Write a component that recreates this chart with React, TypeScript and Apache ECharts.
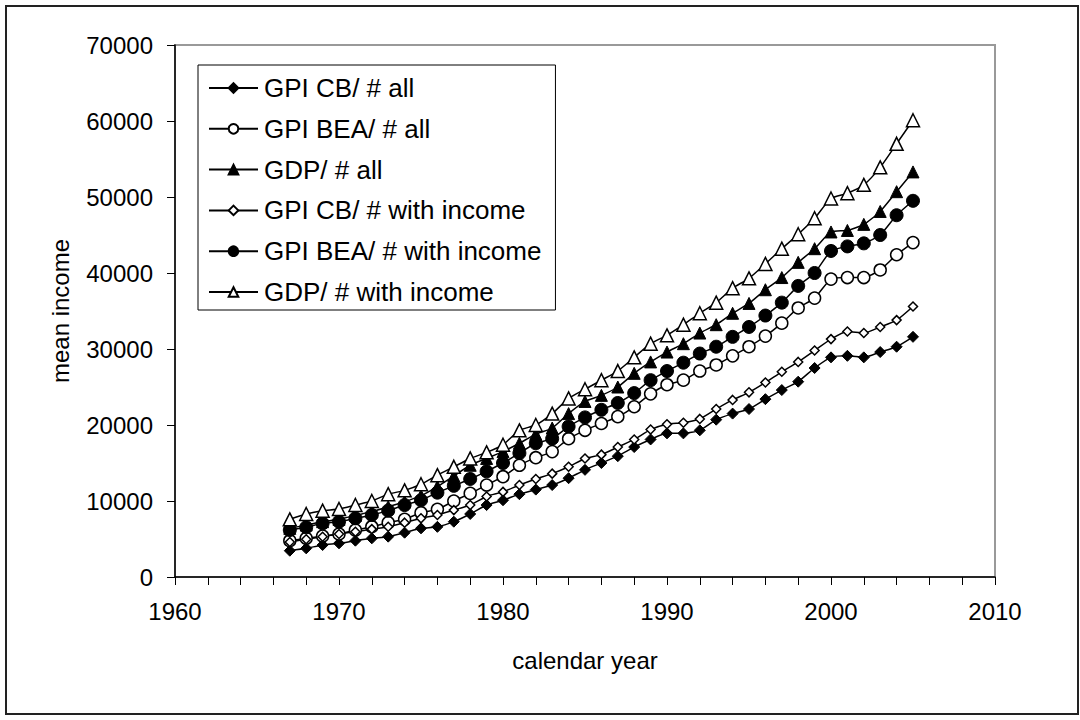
import React, { useEffect, useRef } from "react";
import * as echarts from "echarts";

const years = [
  1967, 1968, 1969, 1970, 1971, 1972, 1973, 1974, 1975, 1976,
  1977, 1978, 1979, 1980, 1981, 1982, 1983, 1984, 1985, 1986,
  1987, 1988, 1989, 1990, 1991, 1992, 1993, 1994, 1995, 1996,
  1997, 1998, 1999, 2000, 2001, 2002, 2003, 2004, 2005,
];

const gpiCbAll = [
  3460, 3770, 4210, 4430, 4780, 5090, 5310, 5830, 6400, 6600,
  7280, 8290, 9470, 10100, 10900, 11500, 12100, 13000, 14100, 15000,
  15900, 17100, 18100, 18900, 18900, 19300, 20700, 21500, 22100, 23400,
  24600, 25700, 27500, 28900, 29100, 28900, 29600, 30300, 31600,
];

const gpiBeaAll = [
  4780, 5090, 5390, 5660, 6180, 6620, 7150, 7590, 8460, 8900,
  10000, 11000, 12100, 13200, 14700, 15700, 16500, 18200, 19300, 20200,
  21100, 22400, 24100, 25300, 25900, 27100, 27900, 29100, 30300, 31700,
  33400, 35400, 36700, 39200, 39400, 39400, 40400, 42400, 44000,
];

const gdpAll = [
  6400, 6840, 7280, 7590, 8110, 8600, 9250, 9900, 10700, 11900,
  13300, 14700, 15600, 16500, 17600, 18800, 19600, 21500, 23100, 23900,
  25000, 26800, 28300, 29600, 30700, 32100, 33200, 34700, 36000, 37800,
  39400, 41400, 43200, 45400, 45600, 46400, 48100, 50700, 53300,
];

const gpiCbWith = [
  4600, 4960, 5300, 5660, 5960, 6300, 6620, 7150, 7720, 8160,
  8800, 9470, 10600, 11200, 12100, 12900, 13600, 14500, 15600, 16100,
  17100, 18100, 19400, 20100, 20300, 20800, 22100, 23300, 24300, 25600,
  27000, 28300, 29800, 31300, 32300, 32100, 32900, 33800, 35600,
];

const gpiBeaWith = [
  6180, 6540, 7060, 7280, 7720, 8160, 8730, 9470, 10100, 11100,
  12000, 12900, 13900, 15000, 16300, 17600, 18200, 19800, 21000, 22000,
  22900, 24200, 25900, 27100, 28200, 29400, 30300, 31600, 32900, 34400,
  36100, 38300, 40000, 42900, 43500, 43900, 45000, 47600, 49500,
];

const gdpWith = [
  7590, 8290, 8730, 8950, 9470, 10000, 10900, 11400, 12200, 13400,
  14500, 15600, 16400, 17400, 19300, 20000, 21500, 23500, 24700, 25900,
  27100, 28900, 30700, 31800, 33200, 34700, 36100, 38000, 39300, 41200,
  43200, 45100, 47200, 49800, 50500, 51600, 53900, 57000, 60100,
];

const seriesNames = [
  "GPI CB/ # all",
  "GPI BEA/ # all",
  "GDP/ # all",
  "GPI CB/ # with income",
  "GPI BEA/ # with income",
  "GDP/ # with income",
];

const xTitle = "calendar year";
const yTitle = "mean income";

const FONT = "'Liberation Sans', Arial, sans-serif";

export default function App() {
  const ref = useRef<HTMLDivElement>(null);

  useEffect(() => {
    const chart = echarts.init(ref.current!, null, { renderer: "svg" });
    const toPairs = (vals: number[]) => years.map((y, i) => [y, vals[i]]);

    const mk = (
      name: string,
      vals: number[],
      symbol: string,
      size: number,
      filled: boolean
    ) => ({
      name,
      type: "line",
      data: toPairs(vals),
      symbol,
      symbolSize: size,
      showSymbol: true,
      smooth: 0.2,
      lineStyle: { color: "#000", width: 1.5 },
      itemStyle: filled
        ? { color: "#000", borderColor: "#000", borderWidth: 1 }
        : { color: "#fff", borderColor: "#000", borderWidth: 1.5 },
      emphasis: { disabled: true },
    });

    chart.setOption({
      animation: false,
      backgroundColor: "#fff",
      textStyle: { fontFamily: FONT },
      graphic: [
        {
          type: "rect",
          shape: { x: 6, y: 6, width: 1072, height: 708 },
          style: { fill: "none", stroke: "#222", lineWidth: 2 },
          silent: true,
          z: 100,
        },
      ],
      grid: {
        left: 175,
        top: 45,
        right: 85,
        bottom: 143,
        show: true,
        borderColor: "#999",
        borderWidth: 2,
        backgroundColor: "#fff",
      },
      legend: {
        orient: "vertical",
        left: 198,
        top: 65,
        data: seriesNames,
        itemWidth: 49,
        itemHeight: 12,
        itemGap: 12.8,
        padding: [9, 14, 4, 10],
        borderColor: "#000",
        borderWidth: 1,
        backgroundColor: "#fff",
        selectedMode: false,
        textStyle: {
          fontFamily: FONT,
          fontSize: 26,
          color: "#000",
          lineHeight: 28,
          padding: [0, 0, 0, 1],
        },
      },
      xAxis: {
        type: "value",
        min: 1960,
        max: 2010,
        interval: 10,
        name: xTitle,
        nameLocation: "middle",
        nameGap: 71,
        nameTextStyle: { fontFamily: FONT, fontSize: 24, color: "#000" },
        axisLine: { onZero: false, lineStyle: { color: "#000", width: 1.5 } },
        axisTick: { show: true, inside: false, length: 8, lineStyle: { color: "#000", width: 1 } },
        minorTick: { show: true, splitNumber: 5, length: 8, lineStyle: { color: "#000", width: 1 } },
        splitLine: { show: false },
        axisLabel: {
          fontFamily: FONT,
          fontSize: 24,
          color: "#000",
          margin: 22,
          formatter: (v: number) => String(v),
        },
      },
      yAxis: {
        type: "value",
        min: 0,
        max: 70000,
        interval: 10000,
        name: yTitle,
        nameLocation: "middle",
        nameRotate: 90,
        nameGap: 103,
        nameTextStyle: { fontFamily: FONT, fontSize: 24, color: "#000" },
        axisLine: { onZero: false, lineStyle: { color: "#000", width: 1.5 } },
        axisTick: { show: true, inside: false, length: 8, lineStyle: { color: "#000", width: 1 } },
        splitLine: { show: false },
        axisLabel: {
          fontFamily: FONT,
          fontSize: 24,
          color: "#000",
          margin: 22,
          formatter: (v: number) => String(v),
        },
      },
      series: [
        mk(seriesNames[0], gpiCbAll, "diamond", 11, true),
        mk(seriesNames[1], gpiBeaAll, "circle", 12, false),
        mk(seriesNames[2], gdpAll, "triangle", 12, true),
        mk(seriesNames[3], gpiCbWith, "diamond", 9, false),
        mk(seriesNames[4], gpiBeaWith, "circle", 13, true),
        mk(seriesNames[5], gdpWith, "triangle", 13, false),
      ],
    });

    return () => chart.dispose();
  }, []);

  return (
    <div
      ref={ref}
      style={{ position: "fixed", left: 0, top: 0, width: 1080, height: 720, background: "#fff" }}
    />
  );
}
